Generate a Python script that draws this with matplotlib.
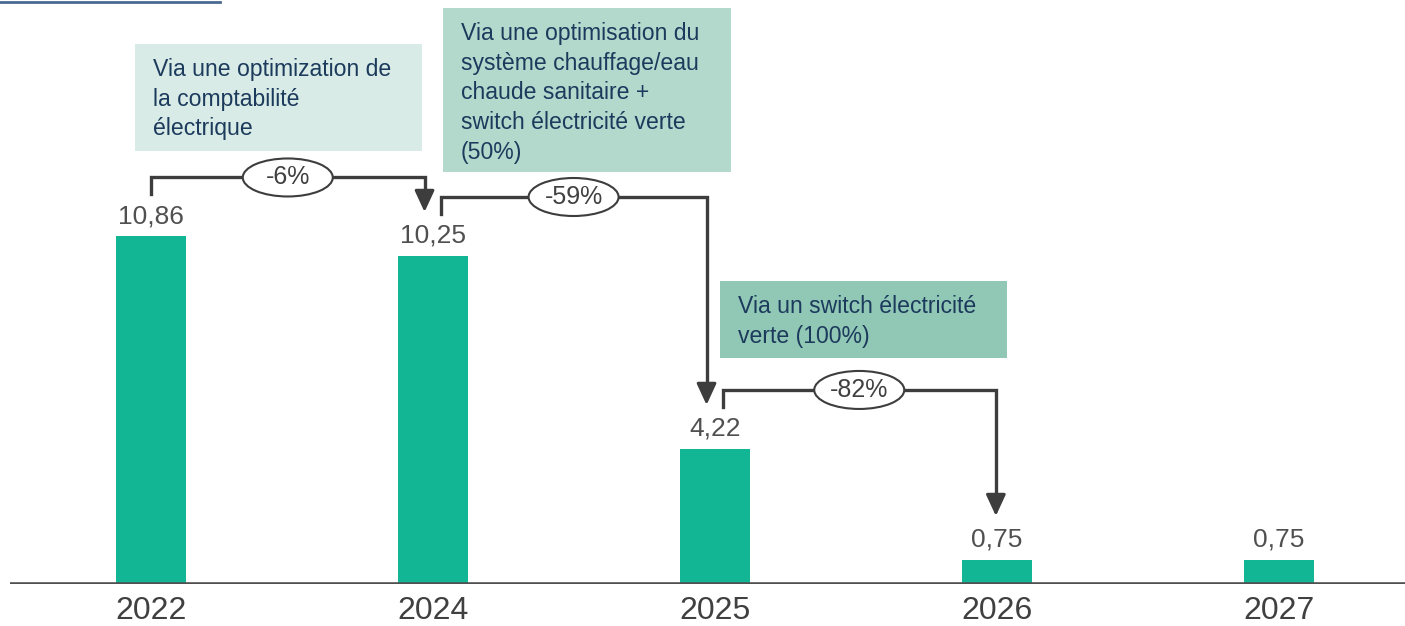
import numpy as np
import matplotlib.pyplot as plt
from matplotlib.patches import Rectangle, Ellipse
from matplotlib.lines import Line2D

years = ["2022", "2024", "2025", "2026", "2027"]
values = [10.86, 10.25, 4.22, 0.75, 0.75]
labels = ["10,86", "10,25", "4,22", "0,75", "0,75"]

notes = [
    "Via une optimization de\nla comptabilité\nélectrique",
    "Via une optimisation du\nsystème chauffage/eau\nchaude sanitaire +\nswitch électricité verte\n(50%)",
    "Via un switch électricité\nverte (100%)",
]
note_colors = ["#d8ebe6", "#b3d9cd", "#90c7b5"]
# box positions in pixels (left, top, right, bottom)
note_boxes = [(135, 44, 422, 151), (443, 8, 731, 172), (720, 281, 1007, 358)]

# brackets between bars: (from, to, left offset, right offset)
steps = [(0, 1, 0.0, -0.03), (1, 2, 0.027, -0.03), (2, 3, 0.027, -0.004)]

W, H = 1405, 626
fig = plt.figure(figsize=(W / 100, H / 100), dpi=100)
plt.rcParams['font.family'] = ['Liberation Sans', 'DejaVu Sans']

PX_PER_UNIT = 32.0
base_y = 584
left_px, right_px = 10, 1405
ax = fig.add_axes([left_px / W, (H - base_y) / H, (right_px - left_px) / W, base_y / H])
ax.set_xlim((left_px - 151) / 282, (right_px - 151) / 282)
ax.set_ylim(0, base_y / PX_PER_UNIT)
ax.axis('off')

x = np.arange(len(years))
ax.bar(x, values, width=0.25, color="#12b695")
ax.axhline(0, color="#505050", lw=2.6, zorder=3)

u = 1 / PX_PER_UNIT  # one pixel in data units
for i, (v, lab) in enumerate(zip(values, labels)):
    ax.text(i, v + 20 * u, lab, ha='center', va='center', fontsize=19, color="#505050")
    ax.text(i, -27 * u, years[i], ha='center', va='center', fontsize=23, color="#404040",
            clip_on=False)

dark = "#3d3d3d"
for a, b, lo, ro in steps:
    xa, xb = a + lo, b + ro
    y0 = values[a] + 42 * u
    yh = values[a] + 59 * u
    tip = values[b] + 44 * u
    ax.plot([xa, xa, xb, xb], [y0, yh, yh, tip + 14 * u], color=dark, lw=2.4,
            solid_joinstyle='miter', zorder=4)
    ax.annotate("", xy=(xb, tip), xytext=(xb, tip + 18 * u),
                arrowprops=dict(arrowstyle="-|>,head_length=1.3,head_width=0.6",
                                color=dark, lw=2.2, shrinkA=0, shrinkB=0), zorder=4)
    pct = round((values[b] - values[a]) / values[a] * 100)
    xm = (xa + xb) / 2
    ax.add_patch(Ellipse((xm, yh), 90 / 282, 38 * u, facecolor="white",
                         edgecolor=dark, lw=1.5, zorder=5))
    ax.text(xm, yh, f"{pct}%", ha='center', va='center', fontsize=18,
            color="#404040", zorder=6)

for (l, t, r, btm), col, txt in zip(note_boxes, note_colors, notes):
    fig.patches.append(Rectangle((l / W, 1 - btm / H), (r - l) / W, (btm - t) / H,
                                 transform=fig.transFigure, facecolor=col,
                                 edgecolor='none', zorder=1))
    fig.text((l + 18) / W, 1 - (t + 14) / H, txt, ha='left', va='top', fontsize=16.6,
             color="#1c3a5c", linespacing=1.37, zorder=2)

fig.add_artist(Line2D([0, 220 / W], [1 - 2 / H, 1 - 2 / H], transform=fig.transFigure,
                      color="#4a6a92", lw=2))

fig.savefig("out.png", dpi=100)
